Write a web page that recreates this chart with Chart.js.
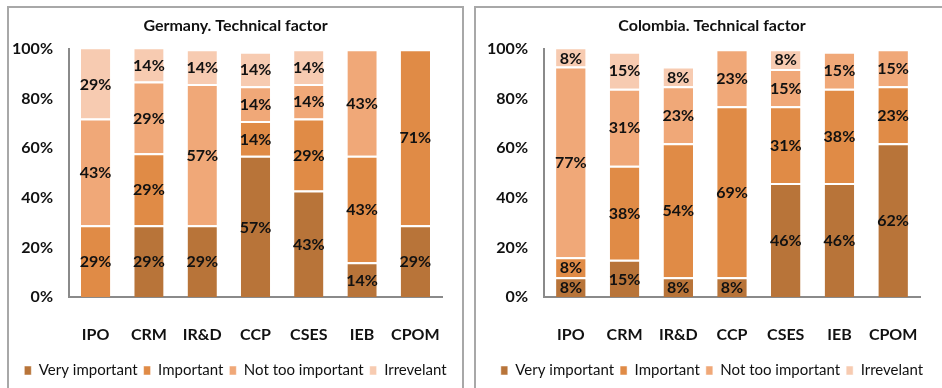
<!DOCTYPE html>
<html lang="en">
<head>
<meta charset="UTF-8">
<title>Technical factor</title>
<script src="https://cdn.jsdelivr.net/npm/chart.js@4.4.1/dist/chart.umd.min.js"></script>
<style>
  body { margin: 0; background: #fff; width: 942px; height: 388px; overflow: hidden; position: relative; }
  .panel { position: absolute; top: 6px; height: 400px; border: 2px solid #a8a8a8; box-sizing: border-box; }
  #germany-panel { left: 7px; width: 457px; }
  #colombia-panel { left: 474px; width: 480px; }
  canvas { display: block; }
</style>
</head>
<body>
<div class="panel" id="germany-panel"><canvas id="germany" width="453" height="380"></canvas></div>
<div class="panel" id="colombia-panel"><canvas id="colombia" width="472" height="380"></canvas></div>
<script>
const factors = ['IPO', 'CRM', 'IR&D', 'CCP', 'CSES', 'IEB', 'CPOM'];
const levels = ['Very important', 'Important', 'Not too important', 'Irrevelant'];
const levelColors = ['#b87439', '#e08b46', '#f0a878', '#f7cbb1'];
const yTicks = [0, 20, 40, 60, 80, 100];

// Germany, % of answers per level
const germanyVeryImportant = [0, 29, 29, 57, 43, 14, 29];
const germanyImportant     = [29, 29, 0, 14, 29, 43, 71];
const germanyNotTooImp     = [43, 29, 57, 14, 14, 43, 0];
const germanyIrrelevant    = [29, 14, 14, 14, 14, 0, 0];

// Colombia, % of answers per level
const colombiaVeryImportant = [8, 15, 8, 8, 46, 46, 62];
const colombiaImportant     = [8, 38, 54, 69, 31, 38, 23];
const colombiaNotTooImp     = [77, 31, 23, 23, 15, 15, 15];
const colombiaIrrelevant    = [8, 15, 8, 0, 8, 0, 0];

const fontFamily = "Lato, 'Liberation Sans', sans-serif";

// writes the value in the middle of every non-empty segment
const segmentLabels = {
  id: 'segmentLabels',
  afterDatasetsDraw(chart) {
    const ctx = chart.ctx;
    const area = chart.chartArea;
    ctx.save();
    ctx.font = 'bold 16px ' + fontFamily;
    ctx.fillStyle = '#111';
    ctx.textAlign = 'center';
    ctx.textBaseline = 'middle';
    chart.data.datasets.forEach((ds, i) => {
      chart.getDatasetMeta(i).data.forEach((bar, j) => {
        const v = ds.data[j];
        if (!v) return;
        const top = Math.max(bar.y, area.top);
        ctx.fillText(v + '%', bar.x, (top + bar.base) / 2 + 1);
      });
    });
    ctx.restore();
  }
};

function makeChart(id, title, series, rightGap, yWidth) {
  const datasets = series.map((data, i) => ({
    label: levels[i],
    data: data,
    backgroundColor: levelColors[i],
    borderColor: '#ffffff',
    borderWidth: { top: 2, right: 0, bottom: 0, left: 0 },
    borderSkipped: false,
    barPercentage: 0.55,
    categoryPercentage: 1
  }));

  return new Chart(document.getElementById(id), {
    type: 'bar',
    data: { labels: factors, datasets: datasets },
    plugins: [segmentLabels],
    options: {
      responsive: false,
      animation: false,
      layout: { padding: 0 },
      plugins: {
        title: {
          display: true,
          text: title,
          color: '#111',
          font: { family: fontFamily, size: 16, weight: 'bold' },
          padding: { top: 8, bottom: 14 }
        },
        legend: {
          position: 'bottom',
          labels: {
            color: '#111',
            font: { family: fontFamily, size: 15 },
            boxWidth: 7,
            boxHeight: 9,
            padding: 6
          }
        },
        tooltip: { enabled: false }
      },
      scales: {
        x: {
          stacked: true,
          grid: { display: false },
          border: { display: true, color: '#8a8a8a', width: 2 },
          ticks: {
            color: '#111',
            padding: 20,
            maxRotation: 0,
            minRotation: 0,
            autoSkip: false,
            font: { family: fontFamily, size: 16, weight: 'bold' }
          },
          afterFit(scale) { scale.height = 60; }
        },
        y: {
          stacked: true,
          min: 0,
          max: 100,
          grid: { display: false },
          border: { display: true, color: '#8a8a8a', width: 2 },
          afterBuildTicks(scale) { scale.ticks = yTicks.map(v => ({ value: v })); },
          ticks: {
            color: '#111',
            padding: 8,
            font: { family: fontFamily, size: 16, weight: 'bold' },
            callback: v => v + '%'
          },
          afterFit(scale) { scale.width = yWidth; }
        },
        // empty right-hand axis, only keeps a gap right of the bars
        gap: {
          position: 'right',
          grid: { display: false },
          border: { display: false },
          ticks: { display: false },
          afterFit(scale) { scale.width = rightGap; }
        }
      }
    }
  });
}

makeChart('germany', 'Germany. Technical factor',
  [germanyVeryImportant, germanyImportant, germanyNotTooImp, germanyIrrelevant], 20, 60);
makeChart('colombia', 'Colombia. Technical factor',
  [colombiaVeryImportant, colombiaImportant, colombiaNotTooImp, colombiaIrrelevant], 28, 68);
</script>
</body>
</html>
